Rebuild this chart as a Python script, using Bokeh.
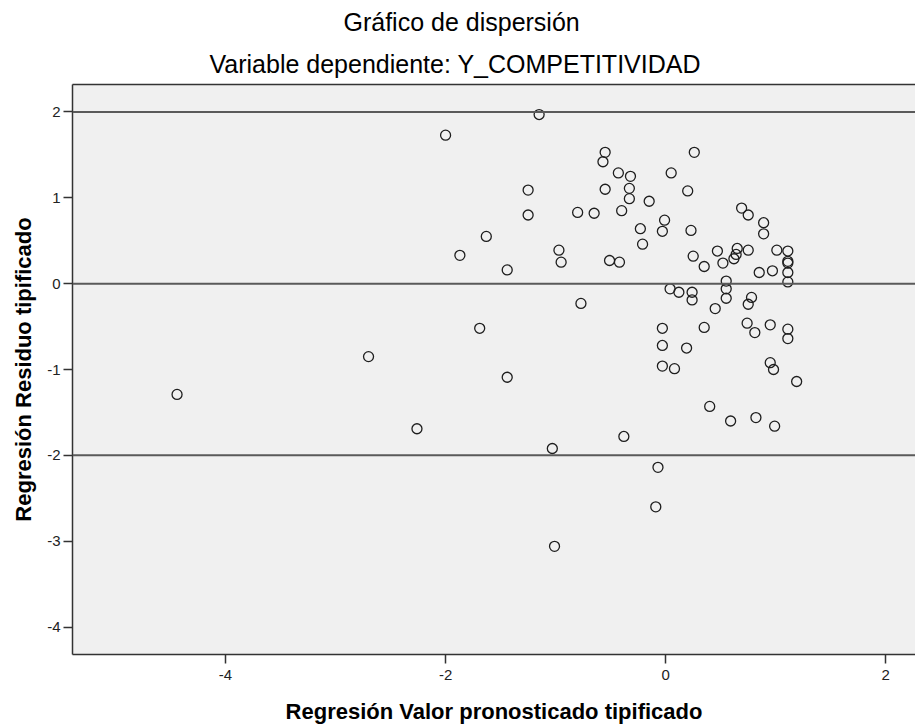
from bokeh.plotting import figure
from bokeh.models import Range1d, Span, Title, FixedTicker, LinearAxis
from bokeh.embed import file_html
from bokeh.resources import INLINE

# Regression standardized predicted value (x) and standardized residual (y)
x_pred = [-4.44, -2.70, -2.26, -2.00, -1.87, -1.63, -1.44, -1.69, -1.44, -1.15,
          -1.25, -1.25, -0.97, -0.95, -1.03, -1.01, -0.77, -0.80, -0.65, -0.55,
          -0.57, -0.43, -0.32, -0.33, -0.33, -0.55, -0.40, -0.15, 0.05, 0.26,
          0.20, -0.51, -0.42, -0.38, -0.01, -0.23, -0.03, 0.23, -0.21, 0.25,
          0.04, 0.12, 0.24, 0.24, -0.03, -0.03, 0.19, -0.03, 0.08, 0.35,
          0.35, -0.07, -0.09, 0.69, 0.75, 0.89, 0.89, 0.47, 0.65, 0.75,
          0.64, 0.62, 0.52, 1.01, 1.11, 1.11, 1.11, 1.11, 1.11, 0.85,
          0.97, 0.55, 0.55, 0.55, 0.78, 0.75, 0.45, 0.74, 0.81, 0.95,
          1.11, 1.11, 0.95, 0.98, 1.19, 0.40, 0.59, 0.82, 0.99]
y_resid = [-1.29, -0.85, -1.69, 1.73, 0.33, 0.55, 0.16, -0.52, -1.09, 1.97,
           1.09, 0.80, 0.39, 0.25, -1.92, -3.06, -0.23, 0.83, 0.82, 1.53,
           1.42, 1.29, 1.25, 1.11, 0.99, 1.10, 0.85, 0.96, 1.29, 1.53,
           1.08, 0.27, 0.25, -1.78, 0.74, 0.64, 0.61, 0.62, 0.46, 0.32,
           -0.06, -0.10, -0.10, -0.19, -0.52, -0.72, -0.75, -0.96, -0.99, -0.51,
           0.20, -2.14, -2.60, 0.88, 0.80, 0.71, 0.58, 0.38, 0.41, 0.39,
           0.34, 0.29, 0.24, 0.39, 0.38, 0.26, 0.24, 0.13, 0.02, 0.13,
           0.15, 0.03, -0.06, -0.17, -0.16, -0.24, -0.29, -0.46, -0.57, -0.48,
           -0.53, -0.64, -0.92, -1.00, -1.14, -1.43, -1.60, -1.56, -1.66]

x_ticks = [-4, -2, 0, 2]
y_ticks = [-4, -3, -2, -1, 0, 1, 2]
ref_lines = [-2, 0, 2]

title_main = "Gráfico de dispersión"
title_sub = "Variable dependiente: Y_COMPETITIVIDAD"
x_label = "Regresión Valor pronosticado tipificado"
y_label = "Regresión Residuo tipificado"

FONT = "Liberation Sans, Arial, sans-serif"
AX = "#333333"

p = figure(width=915, height=726, output_backend="svg", toolbar_location=None,
           x_range=Range1d(-5.39, 2.27), y_range=Range1d(-4.32, 2.32),
           min_border_left=72, min_border_right=0, min_border_top=10,
           min_border_bottom=72, background_fill_color="#f0f0f0",
           border_fill_color="white")
p.outline_line_color = None
p.xgrid.visible = False
p.ygrid.visible = False

bottom = p.below[0]
left = p.left[0]

for ax, ticks in ((bottom, x_ticks), (left, y_ticks)):
    ax.ticker = FixedTicker(ticks=ticks)
    ax.major_label_overrides = {t: str(t) for t in ticks}
    ax.axis_line_color = AX
    ax.axis_line_width = 1.5
    ax.major_tick_line_color = AX
    ax.major_tick_line_width = 1.5
    ax.major_tick_out = 9
    ax.major_tick_in = 0
    ax.minor_tick_line_color = None
    ax.major_label_text_font = FONT
    ax.major_label_text_font_size = "15px"
    ax.major_label_text_color = "#222222"
    ax.axis_label_text_font = FONT
    ax.axis_label_text_font_size = "22px"
    ax.axis_label_text_font_style = "bold"
    ax.axis_label_text_color = "#000000"

bottom.axis_label = x_label
left.axis_label = y_label
bottom.major_label_standoff = 6
left.major_label_standoff = 3
bottom.axis_label_standoff = 16
left.axis_label_standoff = 8

# top frame line via an empty axis
top_axis = LinearAxis(ticker=FixedTicker(ticks=[]), major_label_text_font_size="0px",
                      axis_line_color=AX, axis_line_width=1.5, major_tick_line_color=None,
                      minor_tick_line_color=None, major_label_standoff=0,
                      axis_label_standoff=0)
p.add_layout(top_axis, "above")

p.add_layout(Title(text=title_sub, align="left", offset=137, text_font=FONT,
                   text_font_size="25px", text_font_style="normal", text_color="#000000",
                   standoff=14), "above")
p.add_layout(Title(text=title_main, align="left", offset=271, text_font=FONT,
                   text_font_size="25px", text_font_style="normal", text_color="#000000",
                   standoff=10), "above")

for v in ref_lines:
    p.add_layout(Span(location=v, dimension="width", line_color="#5a5a5a", line_width=2))

p.scatter(x_pred, y_resid, marker="circle", size=10, fill_color=None,
          line_color="#1e1e1e", line_width=1.3)

open("out.html", "w").write(file_html(p, INLINE))
